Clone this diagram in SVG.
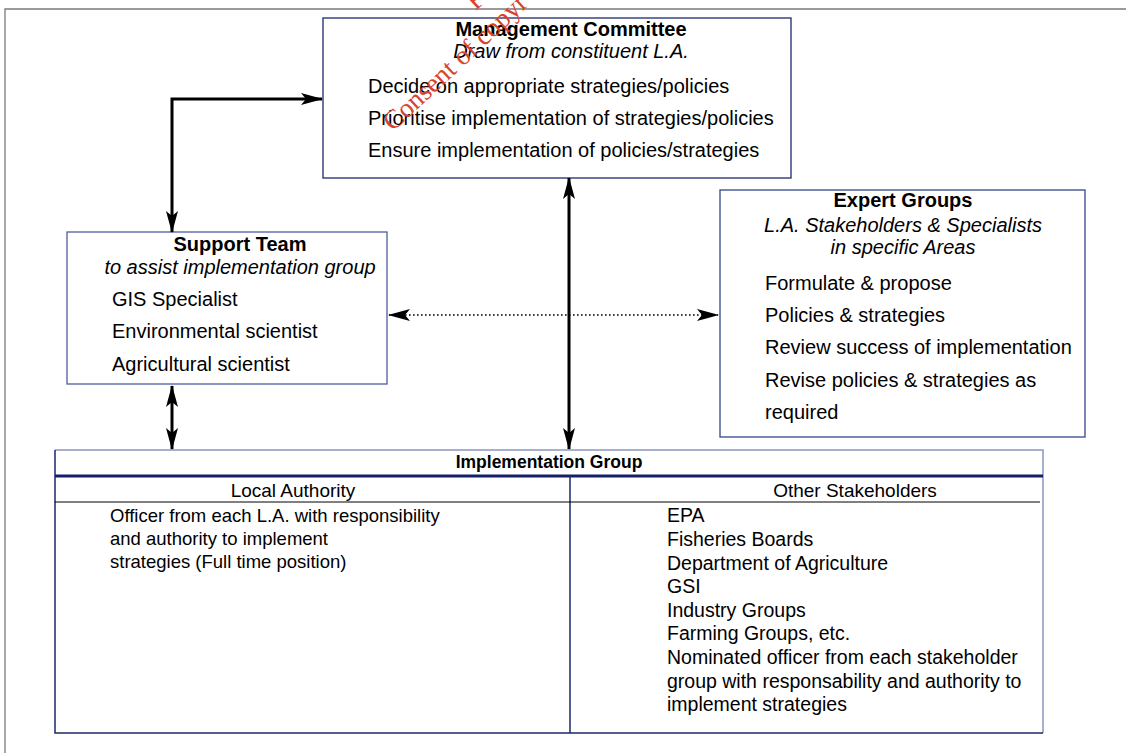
<svg xmlns="http://www.w3.org/2000/svg" width="1126" height="753" viewBox="0 0 1126 753">
<style>
text{font-family:"Liberation Sans",Arial,Helvetica,sans-serif;font-size:20px;fill:#000}
.b{font-weight:bold}
.i{font-style:italic}
.m{text-anchor:middle}
.t{font-size:19px}
.tl{font-size:18.5px}
.tr{font-size:19.5px}
.wm{font-family:"Liberation Serif","Times New Roman",serif;font-size:27px;fill:#d8432c}
.box{fill:#fff;stroke-width:1.3}
.con{fill:none;stroke:#000;stroke-width:3}
</style>
<defs>
<marker id="ah" markerUnits="userSpaceOnUse" markerWidth="22" markerHeight="12" refX="21" refY="6" orient="auto-start-reverse">
<path d="M0,0 L22,6 L0,12 L5,6 Z" fill="#000"/>
</marker>
</defs>
<rect width="1126" height="753" fill="#fff"/>
<g id="frame" fill="none" stroke="#7a7a7a" stroke-width="1.3">
<path d="M5,753 V9 H1126"/>
</g>
<g id="management-committee">
<rect class="box" x="323" y="18" width="468" height="160" stroke="#1b2a6b"/>
<text class="b m" x="571" y="36">Management Committee</text>
<text class="i m" x="571" y="58">Draw from constituent L.A.</text>
<text x="368" y="93">Decide on appropriate strategies/policies</text>
<text x="368" y="125">Prioritise implementation of strategies/policies</text>
<text x="368" y="157">Ensure implementation of policies/strategies</text>
</g>
<g id="support-team">
<rect class="box" x="67" y="232" width="320" height="152" stroke="#4d5f9e"/>
<text class="b m" x="240" y="251">Support Team</text>
<text class="i m" x="240" y="274">to assist implementation group</text>
<text x="112" y="306">GIS Specialist</text>
<text x="112" y="338">Environmental scientist</text>
<text x="112" y="371">Agricultural scientist</text>
</g>
<g id="expert-groups">
<rect class="box" x="720" y="190" width="365" height="247" stroke="#34478a"/>
<text class="b m" x="903" y="207">Expert Groups</text>
<text class="i m" x="903" y="232">L.A. Stakeholders &amp; Specialists</text>
<text class="i m" x="903" y="254">in specific Areas</text>
<text x="765" y="290">Formulate &amp; propose</text>
<text x="765" y="322">Policies &amp; strategies</text>
<text x="765" y="354">Review success of implementation</text>
<text x="765" y="387">Revise policies &amp; strategies as</text>
<text x="765" y="419">required</text>
</g>
<g id="implementation-group">
<rect x="55" y="450" width="988" height="283" fill="#fff" stroke="none"/>
<path d="M55,450 H1043 V733" fill="none" stroke="#8a98c0" stroke-width="1.5"/>
<path d="M55,450 V733 H1043" fill="none" stroke="#1b2a6b" stroke-width="1.5"/>
<line x1="55" y1="476" x2="1043" y2="476" stroke="#14206a" stroke-width="3"/>
<line x1="570" y1="476" x2="570" y2="733" stroke="#1b2a6b" stroke-width="1.5"/>
<line x1="55" y1="502" x2="1040" y2="502" stroke="#000" stroke-width="1"/>
<text class="b m" x="549" y="468" style="font-size:17.5px">Implementation Group</text>
<text class="m t" x="293" y="497">Local Authority</text>
<text class="m t" x="855" y="497">Other Stakeholders</text>
<text class="tl" x="110" y="522">Officer from each L.A. with responsibility</text>
<text class="tl" x="110" y="545">and authority to implement</text>
<text class="tl" x="110" y="568">strategies (Full time position)</text>
<text class="tr" x="667" y="522">EPA</text>
<text class="tr" x="667" y="546">Fisheries Boards</text>
<text class="tr" x="667" y="570">Department of Agriculture</text>
<text class="tr" x="667" y="593">GSI</text>
<text class="tr" x="667" y="617">Industry Groups</text>
<text class="tr" x="667" y="640">Farming Groups, etc.</text>
<text class="tr" x="667" y="664">Nominated officer from each stakeholder</text>
<text class="tr" x="667" y="688">group with responsability and authority to</text>
<text class="tr" x="667" y="711">implement strategies</text>
</g>
<g id="connectors">
<path class="con" d="M172,232 V99 H322" marker-start="url(#ah)" marker-end="url(#ah)"/>
<path class="con" d="M569,178 V449" marker-start="url(#ah)" marker-end="url(#ah)"/>
<path class="con" d="M172,386 V449" stroke-width="2.5" marker-start="url(#ah)" marker-end="url(#ah)"/>
<path d="M389,315 H718" fill="none" stroke="#000" stroke-width="1.6" stroke-dasharray="1.6 2.4" marker-start="url(#ah)" marker-end="url(#ah)"/>
</g>
<g id="watermark">
<g transform="translate(393,132) rotate(-43)">
<text class="wm" x="0" y="0">Consent of copyr</text>
<text class="wm" x="143" y="-32">Fo</text>
</g>
</g>
</svg>
